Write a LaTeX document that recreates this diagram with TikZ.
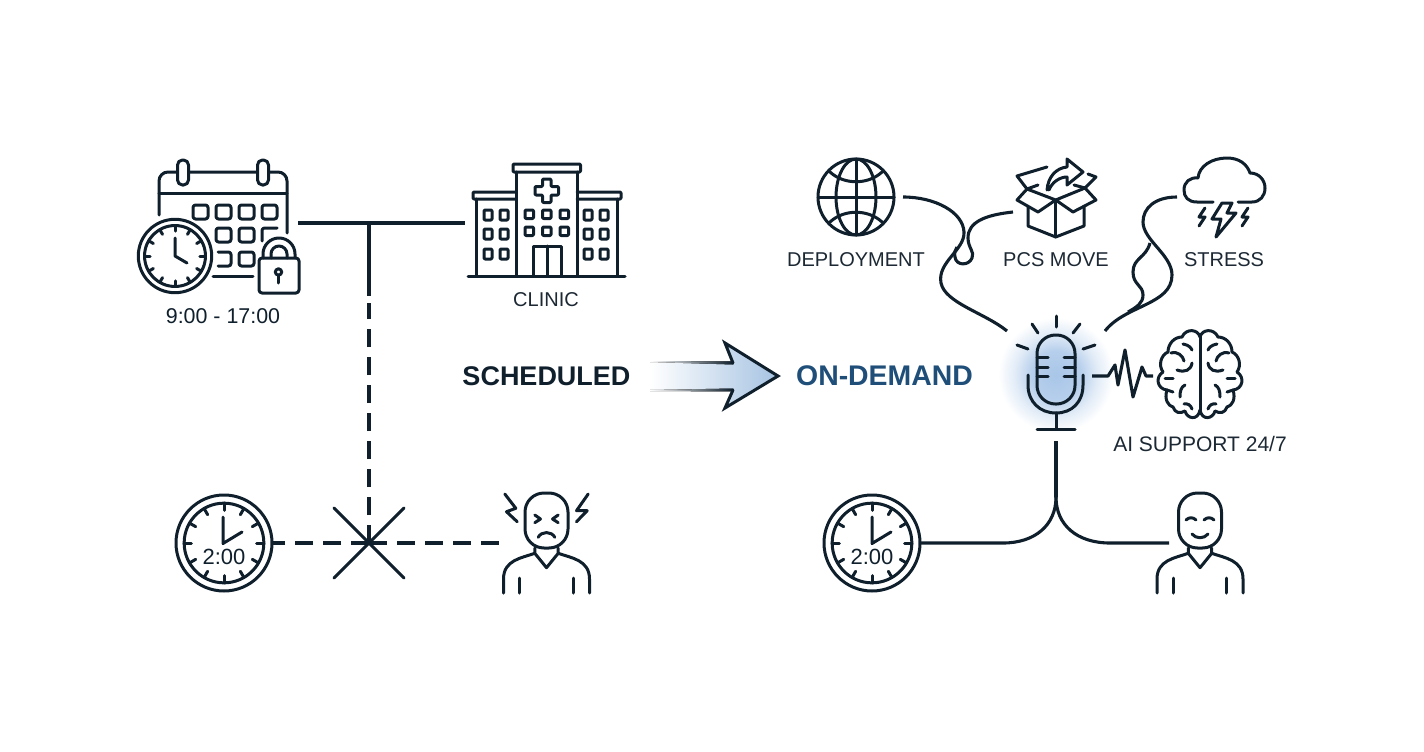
\documentclass[tikz,border=0pt]{standalone}
\usepackage{fontspec}
\setmainfont{Liberation Sans}
\usetikzlibrary{calc}
\definecolor{ink}{HTML}{0F1F2C}
\definecolor{labelink}{HTML}{1C2833}
\definecolor{demandblue}{HTML}{1F4E79}
\definecolor{arrowblue}{HTML}{A6C3E2}
\definecolor{glowblue}{HTML}{A9C6E8}
\pgfdeclareradialshading{micglow}{\pgfpointorigin}{color(0bp)=(glowblue); color(10bp)=(glowblue!85!white); color(17bp)=(glowblue!35!white); color(24bp)=(white); color(50bp)=(white)}

\begin{document}
\begin{tikzpicture}[
            x=1pt, y=-1pt,
            icon line/.style={line width=3pt, ink, line cap=round, line join=round},
            link line/.style={line width=3.1pt, ink, line cap=butt, line join=round},
            dash line/.style={link line, dash pattern=on 18pt off 10pt},
            anchor box/.style={inner sep=0pt, outer sep=0pt, draw=none},
            icon label/.style={font=\fontsize{20}{24}\selectfont, text=labelink, inner sep=0pt},
            clock text/.style={font=\fontsize{22}{24}\selectfont, text=ink, inner sep=0pt},
            big label/.style={inner sep=0pt},
            pics/clockface/.style={code={
                \draw[icon line] (0,0) circle[radius=#1];
                \draw[icon line] (0,0) circle[radius=0.83*#1];
                \foreach \a in {0,30,...,330} {
                    \draw[icon line] (\a:0.83*#1) -- (\a:0.68*#1);
                }
            }},
            pics/person/.style={code={
                \draw[icon line, rounded corners=19pt] (-21.5,-50) rectangle (21.5,5);
                \draw[icon line] (-11.7,5) -- (-11.7,10.3) -- (0,24.7) -- (11.7,10.3) -- (11.7,5);
                \draw[icon line] (-11.7,10.3) .. controls (-25,15) and (-43,17) .. (-43,36) -- (-43,50);
                \draw[icon line] (11.7,10.3) .. controls (25,15) and (43,17) .. (43,36) -- (43,50);
                \draw[icon line] (-26.7,35) -- (-26.7,50);
                \draw[icon line] (26.7,35) -- (26.7,50);
            }},
        ]

        \useasboundingbox (0,0) rectangle (1424,752);

        % Glow behind the microphone
        \fill[shading=micglow] (996,315) rectangle (1116,435);

        % Anchor nodes of the icons
        \node[anchor box, minimum width=160pt, minimum height=140pt] (calendar) at (218,223) {};
        \node[anchor box, minimum width=160pt, minimum height=120pt] (clinic) at (545,223) {};
        \node[anchor box, circle, minimum size=96pt] (badclock) at (224,543) {};
        \node[anchor box, minimum width=93pt, minimum height=100pt] (patient) at (546.5,543) {};
        \node[anchor box, circle, minimum size=96pt] (goodclock) at (872,543) {};
        \node[anchor box, minimum width=62pt, minimum height=100pt] (user) at (1200,543) {};
        \node[anchor box, circle, minimum size=94pt] (globe) at (856,197) {};
        \node[anchor box, minimum width=86pt, minimum height=80pt] (box) at (1056,212) {};
        \node[anchor box, minimum width=94pt, minimum height=80pt] (cloud) at (1224,197) {};
        \node[anchor box, minimum width=72pt, minimum height=130pt] (mic) at (1056,376) {};
        \node[anchor box, minimum width=94pt, minimum height=90pt] (brain) at (1200,376) {};
        \coordinate (tee) at (369,223);
        \coordinate (xcross) at (369,543);
        \coordinate (solidend) at (369,296);
        \coordinate (dashend) at (369,303);
        \coordinate (micleft) at (1007,331);
        \coordinate (micright) at (1105,331);
        \coordinate (fork) at (1056,497);

        % Labels
        \node[clock text, font=\fontsize{21.4}{24}\selectfont] (hours) at (223,316) {9:00 - 17:00};
        \node[icon label] (cliniclabel) at (546,300) {CLINIC};
        \node[icon label] (deploylabel) at (856,260) {DEPLOYMENT};
        \node[icon label] (movelabel) at (1056,260) {PCS MOVE};
        \node[icon label] (stresslabel) at (1224,260) {STRESS};
        \node[icon label, font=\fontsize{21}{24}\selectfont] (ailabel) at (1200,444) {AI SUPPORT 24/7};
        \node[big label, font=\fontsize{27}{32}\selectfont\bfseries, text=ink] (scheduled) at (546.5,376) {SCHEDULED};
        \node[big label, font=\fontsize{28.4}{32}\selectfont\bfseries, text=demandblue] (ondemand) at (884.5,376) {ON-DEMAND};
        \node[clock text] (badtime) at ($(badclock)+(0,14)$) {2:00};
        \node[clock text] (goodtime) at ($(goodclock)+(0,14)$) {2:00};

        % Calendar
        \draw[icon line, rounded corners=9pt] (159,215) -- (159,172) -- (287,172) -- (287,233);
        \draw[icon line] (159,193) -- (287,193);
        \foreach \x in {183,263} {
            \draw[icon line, fill=white, rounded corners=5pt] (\x-5.5,160) rectangle (\x+5.5,185);
        }
        \foreach \x in {193,216,239,262} {
            \draw[icon line, rounded corners=2.5pt] (\x,205) rectangle (\x+15,219);
        }
        \foreach \x in {216,239} {
            \draw[icon line, rounded corners=2.5pt] (\x,228) rectangle (\x+15,242);
        }
        \draw[icon line, rounded corners=2.5pt] (262,241) -- (262,228) -- (277,228);
        \draw[icon line, rounded corners=2.5pt] (218,252) -- (231,252) -- (231,266) -- (218,266);
        \draw[icon line, rounded corners=2.5pt] (239,252) rectangle (254,266);
        \draw[icon line] (213,276) -- (253,276);
        \pic at (175,256) {clockface=36.7};
        \draw[icon line] (175,238) -- (175,256) -- (187,263);

        % Padlock
        \draw[icon line, rounded corners=3pt] (259,258) rectangle (299,293);
        \draw[icon line] (263,258) -- (263,254) arc (180:360:16) -- (295,258);
        \draw[icon line] (271,258) -- (271,254) arc (180:360:8) -- (287,258);
        \draw[icon line] (278.5,272) circle[radius=3.2];
        \draw[icon line] (278.5,275) -- (278.5,283);

        % Clinic building
        \draw[icon line] (468,276) -- (625,276);
        \draw[icon line, rounded corners=1pt] (513,164) rectangle (580.5,172);
        \draw[icon line] (516,172) -- (516,276);
        \draw[icon line] (577,172) -- (577,276);
        \draw[icon line, rounded corners=1pt] (516,192) -- (473,192) -- (473,199) -- (516,199);
        \draw[icon line, rounded corners=1pt] (577,192) -- (621,192) -- (621,199) -- (577,199);
        \draw[icon line] (476,199) -- (476,276);
        \draw[icon line] (617,199) -- (617,276);
        \draw[icon line, rounded corners=1pt] (542.5,179) -- (551,179) -- (551,186.5) -- (558.5,186.5) -- (558.5,195) -- (551,195) -- (551,202.5) -- (542.5,202.5) -- (542.5,195) -- (535,195) -- (535,186.5) -- (542.5,186.5) -- cycle;
        \foreach \x in {484,500,584,600} {
            \foreach \y in {210,229,249} {
                \draw[icon line, rounded corners=1pt] (\x,\y) rectangle (\x+8,\y+10);
            }
        }
        \foreach \x in {525,542.5,560} {
            \foreach \y in {210,227} {
                \draw[icon line, rounded corners=1pt] (\x,\y) rectangle (\x+8.5,\y+8.5);
            }
        }
        \draw[icon line] (533,276) -- (533,246) -- (561,246) -- (561,276);
        \draw[icon line] (547,246) -- (547,276);

        % Connectors of the scheduled side
        \draw[link line] (calendar.east) -- (clinic.west);
        \draw[link line] (tee) -- (solidend);
        \draw[dash line] (xcross) -- (dashend);
        \draw[dash line] (xcross) -- (badclock.east);
        \draw[dash line] (xcross) -- (patient.west);
        \draw[icon line] ($(xcross)+(-35,-35)$) -- ($(xcross)+(35,35)$);
        \draw[icon line] ($(xcross)+(35,-35)$) -- ($(xcross)+(-35,35)$);

        % Clock and stressed person
        \pic at (badclock) {clockface=48};
        \draw[icon line] (223,517) -- (223,543.5) -- (242,532);
        \pic at (patient) {person};
        \begin{scope}[shift={(patient)}]
            \draw[icon line] (-11.7,-28) -- (-6,-24) -- (-11.7,-20.3);
            \draw[icon line] (11.7,-28) -- (6,-24) -- (11.7,-20.3);
            \draw[icon line] (-8.3,-5.7) .. controls (-5,-12) and (5,-12) .. (8.3,-5.7);
            \draw[icon line] (-41.7,-49) -- (-30.7,-34.7) -- (-40,-31.3) -- (-29.3,-21.3);
            \draw[icon line] (41.7,-49) -- (30,-32.3) -- (40.7,-32.3) -- (30,-21.3);
        \end{scope}

        % Block arrow
        \begin{scope}
            \fill[left color=white, right color=arrowblue] (650,363) -- (733,363) -- (725,343) -- (778,376) -- (725,408) -- (733,390) -- (650,390) -- cycle;
            \fill[left color=white, right color=ink] (650,361) -- (733,361.5) -- (733,364.5) -- (650,362) -- cycle;
            \fill[left color=white, right color=ink] (650,390) -- (733,388.5) -- (733,391.5) -- (650,391) -- cycle;
            \draw[icon line, line join=miter] (733,363) -- (725,343) -- (778,376) -- (725,408) -- (733,390);
        \end{scope}

        % Globe
        \draw[icon line] (globe) circle[radius=38];
        \draw[icon line] (globe) ellipse[x radius=20, y radius=38];
        \draw[icon line] ($(globe)+(0,-38)$) -- ($(globe)+(0,38)$);
        \draw[icon line] ($(globe)+(-38,0)$) -- ($(globe)+(38,0)$);
        \draw[icon line] ($(globe)+(-26,-25)$) .. controls ($(globe)+(-12,-12)$) and ($(globe)+(12,-12)$) .. ($(globe)+(26,-25)$);
        \draw[icon line] ($(globe)+(-26,25)$) .. controls ($(globe)+(-12,12)$) and ($(globe)+(12,12)$) .. ($(globe)+(26,25)$);

        % Moving box
        \draw[icon line] (1055.7,200) -- (1038,212) -- (1017,200) -- (1027,189) -- (1055.7,200) -- (1073,212) -- (1096,200) -- (1085,188) -- cycle;
        \draw[icon line] (1028,207) -- (1028,226) -- (1055.7,237) -- (1084,226) -- (1084,207);
        \draw[icon line] (1055.7,200) -- (1055.7,237);
        \draw[icon line] (1038,185) -- (1027,189) -- (1017,176) -- (1047,167);
        \draw[icon line] (1074,185) -- (1085,188) -- (1096,177) -- (1088,174);
        \draw[icon line] (1047,190) .. controls (1048,177) and (1056,168) .. (1067,167) -- (1067,159) -- (1083,172) -- (1067,185) -- (1067,177) .. controls (1060,177) and (1052,182) .. (1049,190);

        % Storm cloud
        \draw[icon line] (1213,202) -- (1197,202) .. controls (1188,202) and (1184,197) .. (1184,190) .. controls (1184,182) and (1190,177) .. (1198,178) .. controls (1199,166) and (1212,158) .. (1227,158) .. controls (1239,158) and (1247,164) .. (1250,173) .. controls (1259,173) and (1265,180) .. (1265,188) .. controls (1265,196) and (1260,202) .. (1252,202) -- (1238,202);
        \draw[icon line] (1222,203) -- (1212,219) -- (1221,219) -- (1216,237) -- (1236,213) -- (1227,213) -- (1232,203) -- cycle;
        \draw[icon line] (1205,208) -- (1199,217) -- (1205,217) -- (1199,226);
        \draw[icon line] (1248,208) -- (1242,217) -- (1248,217) -- (1242,226);

        % Microphone
        \draw[icon line, rounded corners=18.5pt] (1037,335) rectangle (1075,404);
        \foreach \y in {357,367,376} {
            \draw[icon line] (1037,\y) -- (1048,\y);
            \draw[icon line] (1064,\y) -- (1075,\y);
        }
        \draw[icon line] (1028,375) -- (1028,385) .. controls (1028,402) and (1040,413) .. (1056,413) .. controls (1072,413) and (1083,402) .. (1083,385) -- (1083,375);
        \draw[icon line] (1056,413) -- (1056,429);
        \draw[icon line] (1037,429) -- (1075,429);
        \draw[icon line] (1056,316) -- (1056,327);
        \draw[icon line] (1032,324) -- (1038,333);
        \draw[icon line] (1080,324) -- (1073,333);
        \draw[icon line] (1017,345) -- (1028,349);
        \draw[icon line] (1095,345) -- (1083,349);

        % Brain
        \begin{scope}[shift={(1200,375)}]
            \foreach \s in {1,-1} {
                \begin{scope}[xscale=\s]
                    \draw[icon line] (0,-38) .. controls (-2,-46) and (-14,-47) .. (-18,-38) .. controls (-26,-38) and (-32,-31) .. (-32,-23) .. controls (-39,-20) and (-42,-10) .. (-37,-3) .. controls (-45,2) and (-43,14) .. (-33,15) .. controls (-36,24) and (-32,31) .. (-27,32) .. controls (-25,38) and (-20,39) .. (-15,36) .. controls (-13,44) and (-2,46) .. (0,35);
                    \draw[icon line] (-17,-31) .. controls (-11,-30) and (-9,-27) .. (-8,-25);
                    \draw[icon line] (-29,-22) .. controls (-22,-24) and (-17,-19) .. (-16,-14);
                    \draw[icon line] (-23,-5) .. controls (-15,-2) and (-9,-5) .. (-8,-12);
                    \draw[icon line] (-35,3) -- (-27,3);
                    \draw[icon line] (-15,10) .. controls (-19,12) and (-20,16) .. (-20,22);
                    \draw[icon line] (-33,15) -- (-27,17);
                    \draw[icon line] (-16,29) .. controls (-13,28) and (-9,30) .. (-8,34);
                \end{scope}
            }
            \draw[icon line] (0,-38) -- (0,35);
        \end{scope}

        % Connectors of the on-demand side
        \draw[link line] (globe.east) .. controls (935,197) and (963,212) .. (964,232) .. controls (965,250) and (937,262) .. (941,283) .. controls (945,303) and (985,313) .. (micleft);
        \draw[link line] (box.west) .. controls (985,215) and (968,222) .. (968,238) .. controls (968,248) and (975,252) .. (972,258) .. controls (969,266) and (956,266) .. (955,257) .. controls (954,253) and (955,250) .. (957,247);
        \draw[link line] (cloud.west) .. controls (1155,197) and (1143,208) .. (1143,222) .. controls (1143,240) and (1172,255) .. (1172,275) .. controls (1172,305) and (1125,305) .. (micright);
        \draw[link line] (1150,243) .. controls (1146,258) and (1133,258) .. (1133,272) .. controls (1133,285) and (1143,285) .. (1143,295) .. controls (1143,303) and (1137,307) .. (1128,312);
        \draw[link line] (mic.east) -- (1108,376) -- (1115,365) -- (1118,385) -- (1125,350) -- (1133,397) -- (1142,367) -- (1146,376) -- (brain.west);
        \draw[link line] (mic.south) -- (fork);
        \draw[link line] (goodclock.east) -- (1003,543) .. controls (1035,543) and (1056,525) .. (fork);
        \draw[link line] (user.west) -- (1110,543) .. controls (1077,543) and (1056,525) .. (fork);

        % Clock and calm person
        \pic at (goodclock) {clockface=48};
        \draw[icon line] (872,517) -- (872,543.5) -- (891,532);
        \pic at (user) {person};
        \begin{scope}[shift={(user)}]
            \draw[icon line] (-14,-23) .. controls (-11,-26) and (-7,-26) .. (-4,-23);
            \draw[icon line] (14,-23) .. controls (11,-26) and (7,-26) .. (4,-23);
            \draw[icon line] (-8,-9) .. controls (-4,-4) and (4,-4) .. (8,-9);
        \end{scope}

\end{tikzpicture}
\end{document}
